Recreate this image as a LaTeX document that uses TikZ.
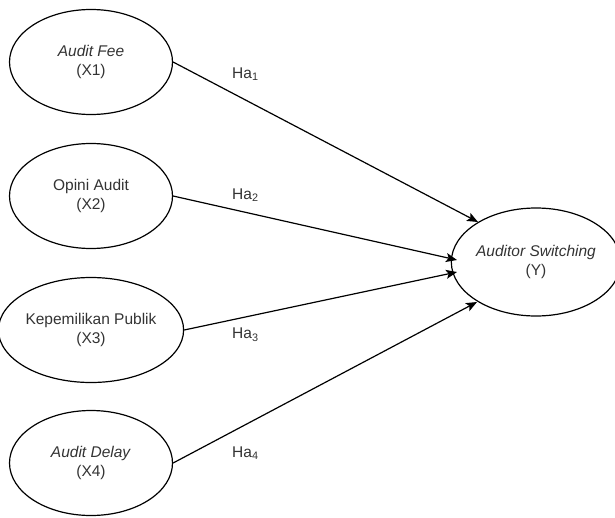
\documentclass[tikz,border=0pt]{standalone}
\usepackage{fontspec}
\setmainfont{Liberation Sans}
\usetikzlibrary{arrows.meta,shapes.geometric}
\definecolor{txt}{HTML}{333333}
\begin{document}
\begin{tikzpicture}[x=1pt,y=-1pt,
  var/.style={draw=black, line width=1.2pt, ellipse, minimum width=163pt, minimum height=105pt, inner sep=0pt, align=center, text=txt, font=\fontsize{15.5}{19}\selectfont},
  conn/.style={line width=1.2pt, -{Stealth[length=11pt,width=9pt,inset=2.5pt]}},
  lab/.style={anchor=west, text=txt, inner sep=0pt, font=\fontsize{15.5}{18}\selectfont}]
\useasboundingbox (0,0) rectangle (615,517);
\node[var] (x1) at (91,62) {\textit{Audit Fee}\\(X1)};
\node[var] (x2) at (91,196) {Opini Audit\\(X2)};
\node[var] (x3) at (91,330) {Kepemilikan Publik\\(X3)};
\node[var] (x4) at (91,463) {\textit{Audit Delay}\\(X4)};
\node[var, minimum width=160pt, minimum height=108pt] (y) at (536,262) {\textit{Auditor Switching}\\(Y)};
\coordinate (e1) at (478,222);
\coordinate (e2) at (457,260);
\coordinate (e3) at (457,272);
\coordinate (e4) at (477,302);
\draw[conn] (x1.east) -- (e1);
\draw[conn] (x2.east) -- (e2);
\draw[conn] (x3.east) -- (e3);
\draw[conn] (x4.east) -- (e4);
\node[lab] (h1) at (232,74) {Ha\textsubscript{1}};
\node[lab] (h2) at (232,195) {Ha\textsubscript{2}};
\node[lab] (h3) at (232,335) {Ha\textsubscript{3}};
\node[lab] (h4) at (232,453) {Ha\textsubscript{4}};
\end{tikzpicture}
\end{document}
